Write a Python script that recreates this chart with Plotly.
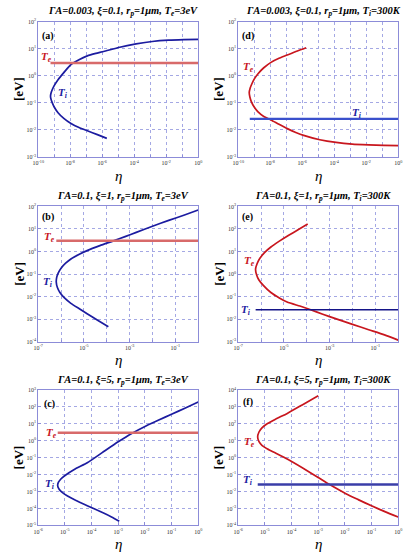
import plotly.graph_objects as go

# ---------------- data (as log10 values) ----------------
# (a) Ti curve, Te = 3 eV
a_log_eta = [-5.71, -6.3, -6.93, -7.45, -7.95, -8.4, -8.76, -9.0, -9.13, -9.2, -9.23, -9.2, -9.13,
             -9.0, -8.76, -8.4, -7.95, -7.45, -6.93, -6.4, -5.91, -4.9, -3.88, -2.87, -1.85, -0.9, 0.0]
a_log_T = [-2.31, -2.17, -2.03, -1.91, -1.76, -1.57, -1.36, -1.15, -0.98, -0.86, -0.75, -0.64, -0.52,
           -0.36, -0.14, 0.12, 0.42, 0.6, 0.74, 0.83, 0.9, 1.06, 1.18, 1.27, 1.32, 1.34, 1.35]
a_Te = 3.0
a_start = 5.9e-10

# (d) Te curve, Ti = 300 K
d_log_eta = [-5.75, -6.3, -6.93, -7.45, -7.95, -8.4, -8.76, -9.0, -9.15, -9.25, -9.31, -9.27, -9.18,
             -9.0, -8.76, -8.4, -7.95, -7.45, -6.93, -6.4, -5.91, -4.9, -3.88, -2.87, -1.85, -0.9, 0.0]
d_log_T = [1.04, 0.92, 0.77, 0.65, 0.5, 0.3, 0.08, -0.12, -0.3, -0.45, -0.62, -0.78, -0.95,
           -1.15, -1.33, -1.5, -1.63, -1.79, -1.95, -2.09, -2.2, -2.36, -2.46, -2.52, -2.55, -2.57, -2.58]
d_Ti = 0.0259
d_start = 5.3e-10

# (b) Ti curve
b_log_eta = [-3.93, -4.4, -4.86, -5.2, -5.57, -5.85, -6.05, -6.16, -6.21, -6.19, -6.12, -6.0,
             -5.8, -5.57, -5.2, -4.86, -4.3, -3.71, -3.2, -2.71, -2.0, -1.29, -0.6, 0.0]
b_log_T = [-3.34, -3.05, -2.76, -2.54, -2.3, -2.06, -1.82, -1.6, -1.35, -1.15, -0.95, -0.74,
           -0.52, -0.33, -0.12, 0.04, 0.26, 0.47, 0.66, 0.85, 1.12, 1.38, 1.62, 1.84]
b_Te = 3.0
b_start = 6.2e-7

# (e) Te curve
e_log_eta = [-3.96, -4.4, -4.86, -5.2, -5.57, -5.85, -6.05, -6.17, -6.24, -6.2, -6.1, -5.9,
             -5.57, -5.2, -4.86, -4.3, -3.86, -3.3, -2.71, -2.0, -1.29, -0.6, 0.0]
e_log_T = [2.22, 1.95, 1.68, 1.46, 1.2, 0.95, 0.7, 0.47, 0.22, -0.02, -0.25, -0.5,
           -0.82, -1.06, -1.24, -1.42, -1.57, -1.78, -1.99, -2.23, -2.47, -2.7, -2.93]
e_Ti = 0.0259
e_start = 5.8e-7

# (c) Ti curve
c_log_eta = [-2.96, -3.25, -3.55, -4.16, -4.6, -4.9, -5.1, -5.22, -5.27, -5.24, -5.15, -5.02,
             -4.6, -4.16, -3.6, -3.0, -2.51, -1.96, -1.5, -0.98, -0.5, 0.0]
c_log_T = [-4.76, -4.5, -4.27, -3.84, -3.52, -3.27, -3.05, -2.85, -2.65, -2.45, -2.26, -2.08,
           -1.65, -1.3, -0.7, -0.06, 0.42, 0.88, 1.22, 1.58, 1.93, 2.29]
c_Te = 3.0
c_start = 5.4e-6

# (f) Te curve
f_log_eta = [-3.0, -3.6, -4.16, -4.6, -4.9, -5.1, -5.22, -5.27, -5.22, -5.1, -4.9, -4.6,
             -4.16, -3.55, -3.0, -2.57, -1.96, -1.5, -0.98, -0.5, 0.0]
f_log_T = [3.66, 3.12, 2.62, 2.28, 2.02, 1.78, 1.52, 1.23, 0.95, 0.72, 0.52, 0.28,
           -0.08, -0.64, -1.17, -1.59, -2.13, -2.48, -2.86, -3.19, -3.51]
f_Ti = 0.0259
f_start = 5.4e-6

titles = {
    "a": "<b><i>ΓA=0.003, ξ=0.1, r<sub>p</sub>=1μm, T<sub>e</sub>=3eV</i></b>",
    "d": "<b><i>ΓA=0.003, ξ=0.1, r<sub>p</sub>=1μm, T<sub>i</sub>=300K</i></b>",
    "b": "<b><i>ΓA=0.1, ξ=1, r<sub>p</sub>=1μm, T<sub>e</sub>=3eV</i></b>",
    "e": "<b><i>ΓA=0.1, ξ=1, r<sub>p</sub>=1μm, T<sub>i</sub>=300K</i></b>",
    "c": "<b><i>ΓA=0.1, ξ=5, r<sub>p</sub>=1μm, T<sub>e</sub>=3eV</i></b>",
    "f": "<b><i>ΓA=0.1, ξ=5, r<sub>p</sub>=1μm, T<sub>i</sub>=300K</i></b>",
}

# x decade ranges, labelled exponents ; y decade ranges
xdec = {"a": (-10, 0), "d": (-10, 0), "b": (-7, 0), "e": (-7, 0), "c": (-6, 0), "f": (-6, 0)}
xlab = {"a": [-10, -8, -6, -4, -2, 0], "d": [-10, -8, -6, -4, -2, 0],
        "b": [-7, -5, -3, -1], "e": [-7, -5, -3, -1],
        "c": [-6, -5, -4, -3, -2, -1, 0], "f": [-6, -5, -4, -3, -2, -1, 0]}
ydec = {"a": (-3, 2), "d": (-3, 2), "b": (-4, 2), "e": (-3, 3), "c": (-5, 3), "f": (-4, 4)}

# ---------------- layout geometry (pixels) ----------------
W, H = 410, 555
cols = {"L": (33, 197), "R": (238, 402)}
rows = {1: (18, 155), 2: (205, 342), 3: (391, 528)}
panel_pos = {"a": ("L", 1), "d": ("R", 1), "b": ("L", 2), "e": ("R", 2), "c": ("L", 3), "f": ("R", 3)}
order = ["a", "d", "b", "e", "c", "f"]

BLUE = "#1c1ca0"
RED = "#c8161e"
SALMON = "#d86a6a"
FRAME = "#8c8cd8"
GRID = "#a4a8e4"
SERIF = "Liberation Serif"

def pw(lst):
    return [10.0 ** v for v in lst]

curves = {
    "a": (pw(a_log_eta), pw(a_log_T), BLUE), "d": (pw(d_log_eta), pw(d_log_T), RED),
    "b": (pw(b_log_eta), pw(b_log_T), BLUE), "e": (pw(e_log_eta), pw(e_log_T), RED),
    "c": (pw(c_log_eta), pw(c_log_T), BLUE), "f": (pw(f_log_eta), pw(f_log_T), RED),
}
hlines = {
    "a": (a_start, a_Te, SALMON, 2.5), "d": (d_start, d_Ti, "#3a50cc", 2.2),
    "b": (b_start, b_Te, SALMON, 2.5), "e": (e_start, e_Ti, "#141488", 1.4),
    "c": (c_start, c_Te, SALMON, 2.5), "f": (f_start, f_Ti, "#3a3ea8", 2.5),
}

fig = go.Figure()
annotations = []

def sup(e):
    return "10<sup>%d</sup>" % e

for i, p in enumerate(order):
    n = i + 1
    xs = "" if n == 1 else str(n)
    c, r = panel_pos[p]
    x0, x1 = cols[c]
    y0, y1 = rows[r]
    xdom = [x0 / W, x1 / W]
    ydom = [1 - y1 / H, 1 - y0 / H]

    eta, T, col = curves[p]
    fig.add_trace(go.Scatter(x=eta, y=T, mode="lines", xaxis="x" + xs, yaxis="y" + xs,
                             line=dict(color=col, width=1.7, shape="spline", smoothing=0.6),
                             showlegend=False, hoverinfo="skip"))
    s, v, hc, hw = hlines[p]
    fig.add_trace(go.Scatter(x=[s, 1.0], y=[v, v], mode="lines", xaxis="x" + xs, yaxis="y" + xs,
                             line=dict(color=hc, width=hw), showlegend=False, hoverinfo="skip"))

    xd0, xd1 = xdec[p]
    yd0, yd1 = ydec[p]
    xt_major = xlab[p]
    xt_minor = [e for e in range(xd0, xd1 + 1) if e not in xlab[p]]
    yt = list(range(yd0, yd1 + 1))
    axcommon = dict(type="log", showgrid=True, gridcolor=GRID, griddash="dot", gridwidth=1,
                    showline=True, linecolor=FRAME, linewidth=1, mirror=True,
                    ticks="inside", ticklen=3, tickcolor=FRAME, zeroline=False,
                    tickfont=dict(family=SERIF, size=6, color="#333333"))
    xaxis = dict(axcommon, domain=xdom, range=[xd0, xd1], anchor="y" + xs,
                 tickvals=[10.0 ** e for e in xt_major],
                 ticktext=[sup(e) for e in xt_major])
    if xt_minor:
        xaxis["minor"] = dict(tickvals=[10.0 ** e for e in xt_minor], showgrid=True,
                              gridcolor=GRID, griddash="dot", gridwidth=1,
                              ticks="inside", ticklen=2, tickcolor=FRAME)
    fig.layout["xaxis" + xs] = xaxis
    fig.layout["yaxis" + xs] = dict(axcommon, domain=ydom, range=[yd0, yd1],
                                    anchor="x" + xs,
                                    tickvals=[10.0 ** e for e in yt],
                                    ticktext=[sup(e) for e in yt])

    xc = (x0 + x1) / 2
    # title
    annotations.append(dict(text=titles[p], xref="paper", yref="paper",
                            x=(xc + 5) / W, y=1 - (y0 - 10) / H, showarrow=False,
                            xanchor="center", yanchor="middle",
                            font=dict(family=SERIF, size=10.5, color="black")))
    # eta label
    annotations.append(dict(text="<i>η</i>", xref="paper", yref="paper",
                            x=xc / W, y=1 - (y1 + 19) / H, showarrow=False,
                            xanchor="center", yanchor="middle",
                            font=dict(family=SERIF, size=15, color="black")))
    # [eV] label
    annotations.append(dict(text="<b>[eV]</b>", xref="paper", yref="paper",
                            x=(x0 - 20) / W, y=1 - ((y0 + y1) / 2) / H, showarrow=False,
                            textangle=-90, xanchor="center", yanchor="middle",
                            font=dict(family=SERIF, size=13, color="black")))

# panel letters and curve labels (positions as fractions of each plot area)
labels = {
    "a": [("(a)", 0.063, 0.896, "black"), ("T<sub>e</sub>", 0.053, 0.742, RED), ("T<sub>i</sub>", 0.154, 0.474, BLUE)],
    "d": [("(d)", 0.063, 0.896, "black"), ("T<sub>e</sub>", 0.063, 0.669, RED), ("T<sub>i</sub>", 0.744, 0.328, BLUE)],
    "b": [("(b)", 0.061, 0.922, "black"), ("T<sub>e</sub>", 0.071, 0.774, RED), ("T<sub>i</sub>", 0.061, 0.44, BLUE)],
    "e": [("(e)", 0.061, 0.922, "black"), ("T<sub>e</sub>", 0.071, 0.60, RED), ("T<sub>i</sub>", 0.051, 0.234, BLUE)],
    "c": [("(c)", 0.071, 0.898, "black"), ("T<sub>e</sub>", 0.081, 0.68, RED), ("T<sub>i</sub>", 0.071, 0.304, BLUE)],
    "f": [("(f)", 0.061, 0.915, "black"), ("T<sub>e</sub>", 0.071, 0.617, RED), ("T<sub>i</sub>", 0.061, 0.333, BLUE)],
}
for i, p in enumerate(order):
    n = i + 1
    xs = "" if n == 1 else str(n)
    for txt, fx, fy, colr in labels[p]:
        if txt.startswith("("):
            t = "<b>%s</b>" % txt
            sz = 10
        else:
            t = "<b><i>%s</i></b>" % txt
            sz = 11
        annotations.append(dict(text=t, xref="x%s domain" % xs, yref="y%s domain" % xs,
                                x=fx, y=fy, showarrow=False, xanchor="center", yanchor="middle",
                                font=dict(family=SERIF, size=sz, color=colr)))

fig.update_layout(width=W, height=H, margin=dict(l=0, r=0, t=0, b=0),
                  paper_bgcolor="white", plot_bgcolor="white",
                  annotations=annotations, showlegend=False)

fig.write_html("out.html")
